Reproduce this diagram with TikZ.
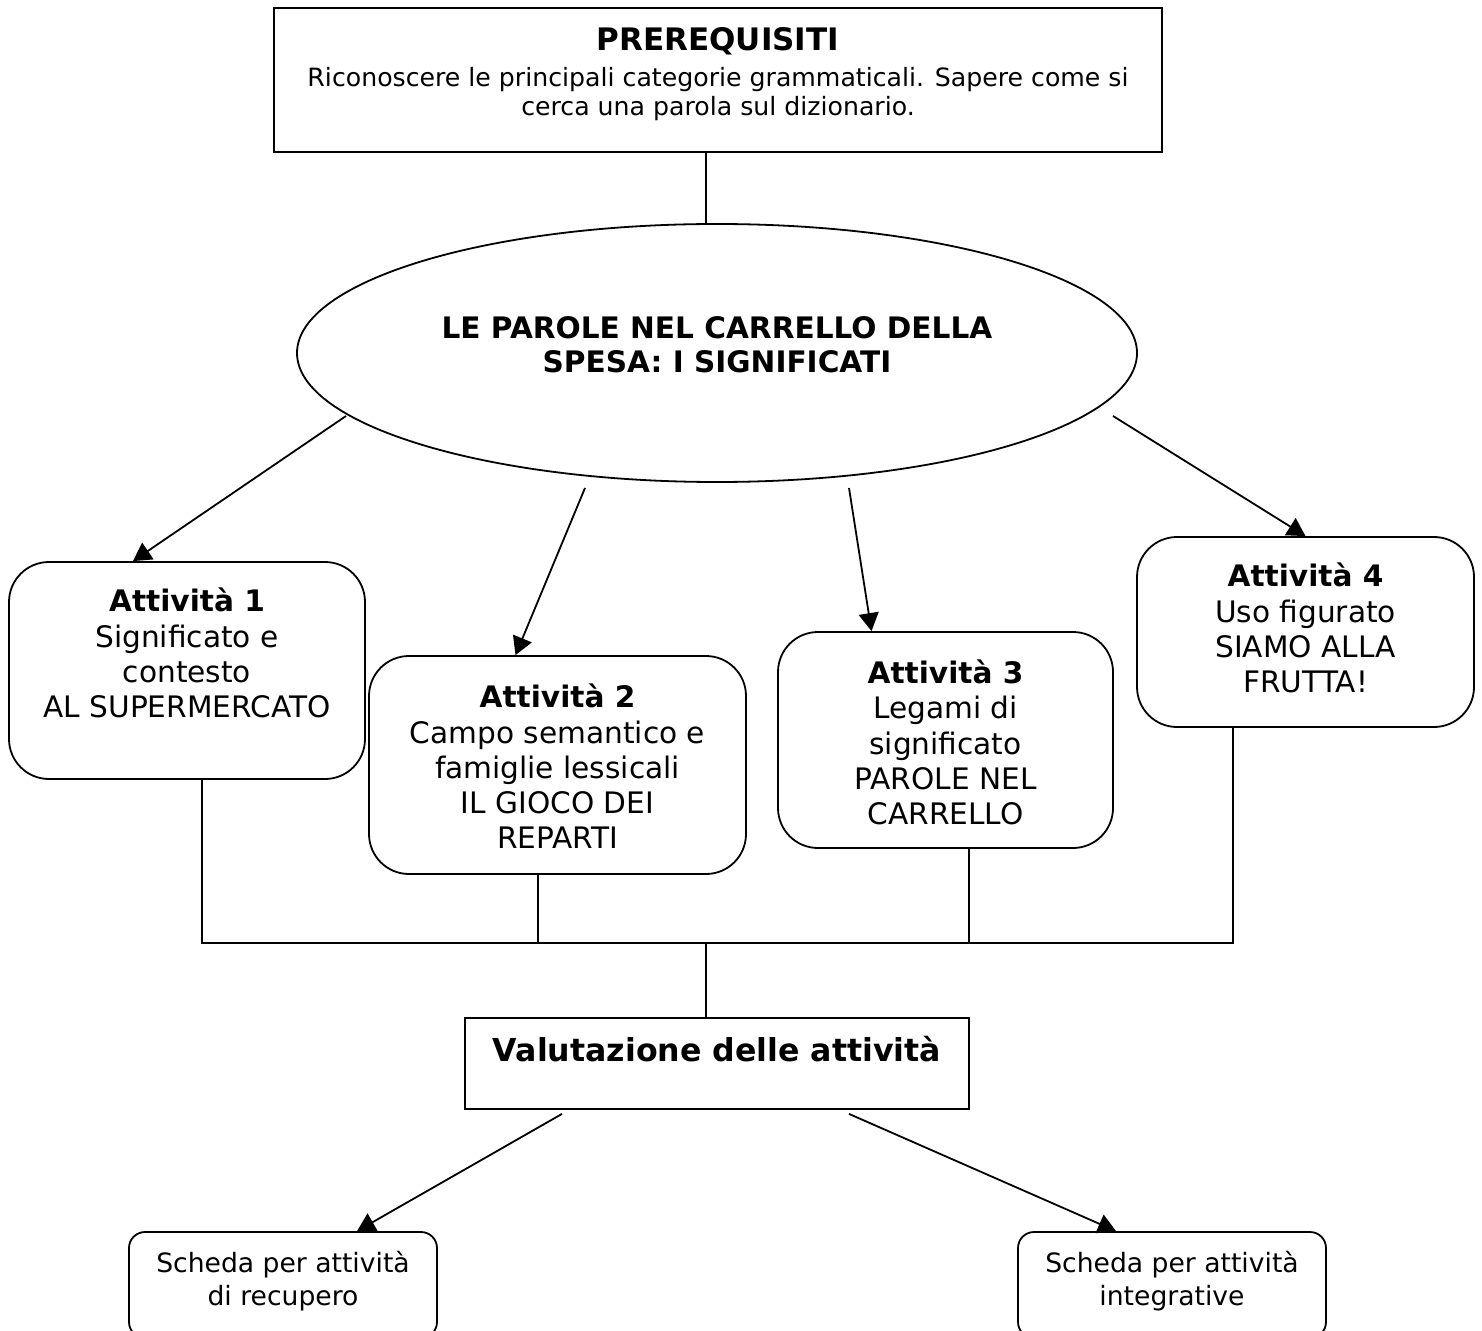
\documentclass[tikz,border=0pt]{standalone}
\usepackage{fontspec}
\setmainfont{DejaVu Sans}
\usetikzlibrary{shapes.geometric,arrows.meta}
\begin{document}
\begin{tikzpicture}[x=0.5pt,y=-0.5pt,line width=0.9pt,
  box/.style={draw,rectangle,inner sep=0pt},
  rbox/.style={draw,rectangle,rounded corners=20pt,inner sep=0pt},
  sbox/.style={draw,rectangle,rounded corners=8pt,inner sep=0pt,minimum width=154pt,minimum height=53pt},
  txt/.style={align=center,inner sep=0pt,font=\fontsize{14.8}{17.6}\selectfont},
  smalltxt/.style={align=center,inner sep=0pt,font=\fontsize{13.3}{16.5}\selectfont},
  arr/.style={-{Triangle[length=9pt,width=10pt]}}]
\useasboundingbox (0,0) rectangle (1482,1331);
% top box
\node[box,minimum width=444pt,minimum height=72pt] (top) at (718,80) {};
\node[inner sep=0pt,font=\bfseries\fontsize{15.5}{18}\selectfont] (ttitle) at (718,41) {PREREQUISITI};
\node[align=center,inner sep=0pt,font=\fontsize{12.6}{14.5}\selectfont] (tbody) at (718,94)
  {Riconoscere le principali categorie grammaticali. Sapere come si\\cerca una parola sul dizionario.};
% ellipse
\node[draw,ellipse,inner sep=0pt,minimum width=420pt,minimum height=129pt] (ell) at (717,353) {};
\node[align=center,inner sep=0pt,font=\bfseries\fontsize{14.8}{17}\selectfont] (etext) at (717,345)
  {LE PAROLE NEL CARRELLO DELLA\\SPESA: I SIGNIFICATI};
% activity boxes
\node[rbox,minimum width=178pt,minimum height=108.5pt] (b1) at (187,670.5) {};
\node[txt] (t1) at (187,653) {\textbf{Attività 1}\\Significato e\\contesto\\AL SUPERMERCATO};
\node[rbox,minimum width=188.5pt,minimum height=109pt] (b2) at (557.5,765) {};
\node[txt] (t2) at (557.5,766.5) {\textbf{Attività 2}\\Campo semantico e\\famiglie lessicali\\IL GIOCO DEI\\REPARTI};
\node[rbox,minimum width=167.5pt,minimum height=108pt] (b3) at (945.5,740) {};
\node[txt] (t3) at (945.5,742.5) {\textbf{Attività 3}\\Legami di\\significato\\PAROLE NEL\\CARRELLO};
\node[rbox,minimum width=168.5pt,minimum height=95pt] (b4) at (1305.5,632) {};
\node[txt] (t4) at (1305.5,628) {\textbf{Attività 4}\\Uso figurato\\SIAMO ALLA\\FRUTTA!};
% valutazione
\node[box,minimum width=252pt,minimum height=45.5pt] (val) at (717,1063.5) {};
\node[inner sep=0pt,font=\bfseries\fontsize{15.8}{19}\selectfont] (vtext) at (717,1049) {Valutazione delle attività};
% bottom boxes
\node[sbox] (bl) at (283,1285) {};
\node[smalltxt] (blt) at (283,1281.5) {Scheda per attività\\di recupero};
\node[sbox] (br) at (1172,1285) {};
\node[smalltxt] (brt) at (1172,1281.5) {Scheda per attività\\integrative};
% connectors
\draw ([xshift=-6pt]top.south) -- ([xshift=-6pt]top.south |- ell.north);
\draw[arr] ([shift={(-371,63)}]ell.center) -- ([xshift=-27pt]b1.north);
\draw[arr] ([shift={(-132,135)}]ell.center) -- ([xshift=-21pt]b2.north);
\draw[arr] ([shift={(132,135)}]ell.center) -- ([xshift=-37pt]b3.north);
\draw[arr] ([shift={(396,63)}]ell.center) -- (b4.north);
\coordinate (bus) at (706,943);
\draw ([xshift=7.5pt]b1.south) -- ([xshift=7.5pt]b1.south |- bus) -- ([xshift=-36.25pt]b4.south |- bus) -- ([xshift=-36.25pt]b4.south);
\draw ([xshift=-9.75pt]b2.south) -- ([xshift=-9.75pt]b2.south |- bus);
\draw ([xshift=11.75pt]b3.south) -- ([xshift=11.75pt]b3.south |- bus);
\draw (bus) -- (bus |- val.north);
\draw[arr] ([xshift=-77.5pt,yshift=-2pt]val.south) -- ([xshift=37pt]bl.north);
\draw[arr] ([xshift=66pt,yshift=-2pt]val.south) -- ([xshift=-28pt]br.north);
\end{tikzpicture}
\end{document}
